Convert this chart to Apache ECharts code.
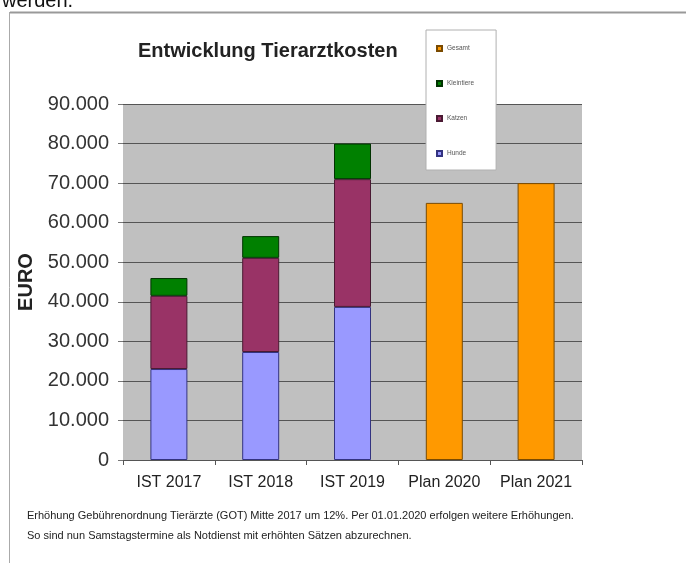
<!DOCTYPE html>
<html><head><meta charset="utf-8">
<script src="https://cdn.jsdelivr.net/npm/echarts@6/dist/echarts.min.js"></script>
<style>html,body{margin:0;padding:0;background:#fff}#c{width:686px;height:563px}</style>
</head><body><div id="c"></div>
<script>
const categories = ['IST 2017', 'IST 2018', 'IST 2019', 'Plan 2020', 'Plan 2021'];
const hunde      = [23000, 27300, 38700, null, null];
const katzen     = [18500, 23800, 32300, null, null];
const kleintiere = [4500, 5500, 9000, null, null];
const gesamt     = [null, null, null, 65000, 70000];
const yTicks = [0, 10000, 20000, 30000, 40000, 50000, 60000, 70000, 80000, 90000];
const legendNames = ['Gesamt', 'Kleintiere', 'Katzen', 'Hunde'];
const titleText = 'Entwicklung Tierarztkosten';
const noteLines = [
  'Erhöhung Gebührenordnung Tierärzte (GOT) Mitte 2017 um 12%. Per 01.01.2020 erfolgen weitere Erhöhungen.',
  'So sind nun Samstagstermine als Notdienst mit erhöhten Sätzen abzurechnen.'
];

const chart = echarts.init(document.getElementById('c'), null, {renderer: 'canvas'});
const fmt = v => v === 0 ? '0' : v.toLocaleString('de-DE');
const font = 'Liberation Sans, Arial, sans-serif';

function bar(name, data, color, border) {
  return {
    name, type: 'bar', stack: 'all', data, barWidth: 37,
    itemStyle: {color, borderColor: border, borderWidth: 1},
    emphasis: {disabled: true}
  };
}

chart.setOption({
  animation: false,
  textStyle: {fontFamily: font},
  title: {
    text: titleText, left: 133, top: 36,
    textStyle: {fontSize: 20, fontWeight: 'bold', color: '#222', fontFamily: font}
  },
  legend: {
    data: legendNames, orient: 'vertical', left: 426, top: 30,
    backgroundColor: '#fff', borderColor: '#b0b0b0', borderWidth: 1,
    padding: [15, 22, 13, 10], itemGap: 28, itemWidth: 5, itemHeight: 5,
    icon: 'rect', textStyle: {fontSize: 6.5, color: '#555', fontFamily: font},
    selectedMode: false, z: 10
  },
  grid: {left: 123, right: 104, top: 104, bottom: 103,
    show: true, backgroundColor: '#c0c0c0', borderWidth: 0},
  xAxis: {
    type: 'category', data: categories,
    axisLine: {lineStyle: {color: '#555', width: 1}},
    axisTick: {show: true, length: 5, lineStyle: {color: '#555'}},
    axisLabel: {interval: 0, fontSize: 16, color: '#222', margin: 15, fontFamily: font}
  },
  yAxis: {
    type: 'value', min: 0, max: 90000, interval: 10000,
    name: 'EURO', nameLocation: 'middle', nameGap: 81, nameRotate: 90,
    nameTextStyle: {fontSize: 20, fontWeight: 'bold', color: '#222', fontFamily: font},
    axisLine: {show: false},
    axisTick: {show: true, length: 5, lineStyle: {color: '#777'}},
    axisLabel: {fontSize: 20, color: '#333', margin: 14, formatter: v => yTicks.includes(v) ? fmt(v) : '', fontFamily: font},
    splitLine: {lineStyle: {color: '#555', width: 1}}
  },
  series: [
    bar('Hunde', hunde, '#9999ff', '#333380'),
    bar('Katzen', katzen, '#993366', '#4a1a33'),
    bar('Kleintiere', kleintiere, '#008000', '#003300'),
    bar('Gesamt', gesamt, '#ff9900', '#7a4a00')
  ],
  graphic: [
    {type: 'text', left: 2, top: -9, style: {text: 'werden.', fontSize: 20, fill: '#111', fontFamily: font}},
    {type: 'line', shape: {x1: 10, y1: 12.5, x2: 686, y2: 12.5}, style: {stroke: '#999', lineWidth: 2}},
    {type: 'line', shape: {x1: 9.5, y1: 12, x2: 9.5, y2: 563}, style: {stroke: '#aaa', lineWidth: 1}},
    {type: 'text', left: 27, top: 510, style: {text: noteLines[0], fontSize: 11, fill: '#222', fontFamily: font}},
    {type: 'text', left: 27, top: 530, style: {text: noteLines[1], fontSize: 11, fill: '#222', fontFamily: font}}
  ]
});
</script></body></html>
